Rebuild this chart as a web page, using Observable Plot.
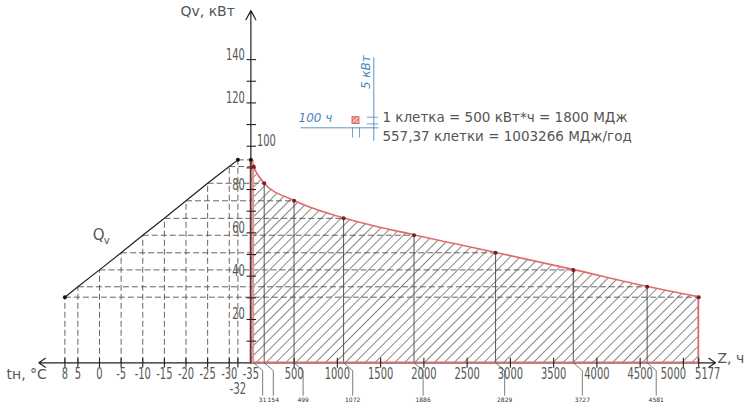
<!DOCTYPE html>
<html><head><meta charset="utf-8">
<script src="https://cdn.jsdelivr.net/npm/d3@7"></script>
<script src="https://cdn.jsdelivr.net/npm/@observablehq/plot@0.6"></script>
<style>
html,body{margin:0;padding:0;background:#fff;}
</style>
</head><body>
<div id="chart"></div>
<script>
// ---- data ----
const temps = [8, 5, 0, -5, -10, -15, -20, -25, -30, -32];            // outdoor temperature, °C
const qvValues = [30.3, 35.1, 42.9, 50.8, 58.9, 66.7, 74.8, 82.9, 90.6, 93.7]; // Qv, kW
const hours = [5177, 4581, 3727, 2829, 1886, 1072, 499, 154, 31, 0];    // duration Z, h
const tempTicks = [8, 5, 0, -5, -10, -15, -20, -25, -30, -35];
const tempExtraTick = [-32];
const hourTicks = [500, 1000, 1500, 2000, 2500, 3000, 3500, 4000, 4500, 5000, 5177];
const qvTicks = [20, 40, 60, 80, 100, 120, 140];
const qvMinorTicks = [10, 30, 50, 70, 90, 110, 130];
const legendLine1 = "1 клетка = 500 кВт*ч = 1800 МДж";
const legendLine2 = "557,37 клетки = 1003266 МДж/год";

// temperature axis shares the x scale: -35 °C sits at Z = 0, 1 °C = 50 h to the left
const HOURS_PER_DEG = 50;
const tx = t => -(t + 35) * HOURS_PER_DEG;

const rows = hours.map((h, i) => ({h, q: qvValues[i], t: temps[i]}));
const rowsAsc = rows.slice().sort((a, b) => a.h - b.h);
const peak = rowsAsc[0];
const zMax = d3.max(hours);
const FONT = "'DejaVu Sans', sans-serif";
const TXT = "#555";
const RED = "#e36b6b";
const BLUE = "#4f86c0";
const LEAD = 105; // leader offset in hours
const NARROW = 0.66; // horizontal compression of tick labels (narrow drafting font)
const TICK_FS = 15;

const leaderRows = rows.filter(d => d.h > 0 && d.h < zMax);
const leaderPts = [];
leaderRows.forEach(d => {
  leaderPts.push({id: d.h, x: d.h, y: 0});
  leaderPts.push({id: d.h, x: d.h + LEAD, y: -3.6});
  leaderPts.push({id: d.h, x: d.h + LEAD, y: -15});
});

const mainHourTicks = hourTicks.filter(d => d < 5000);
const one = [0];
const tickText = {fontSize: TICK_FS, fill: TXT};
const svg = Plot.plot({
  width: 747, height: 409, margin: 0,
  style: {fontFamily: FONT, background: "#fff", color: TXT, overflow: "visible"},
  x: {domain: [-2150, 5177], range: [64.4, 698.2]},
  y: {domain: [0, 140], range: [362.3, 59.1]},
  marks: [
    Plot.areaY(rowsAsc, {x: "h", y: "q", fill: "url(#hatch)", curve: "monotone-x"}),
    Plot.link(rows, {x1: d => tx(d.t), x2: "h", y1: "q", y2: "q", stroke: "#555", strokeWidth: 0.9, strokeDasharray: "6,3"}),
    Plot.link(rows, {x1: d => tx(d.t), x2: d => tx(d.t), y1: () => 0, y2: "q", stroke: "#555", strokeWidth: 0.9, strokeDasharray: "6,3"}),
    Plot.link(rows.filter(d => d.h > 0), {x1: "h", x2: "h", y1: () => 0, y2: "q", stroke: "#444", strokeWidth: 0.9}),
    Plot.line(rows, {x: d => tx(d.t), y: "q", stroke: "#222", strokeWidth: 1.2}),
    Plot.arrow(one, {x1: () => 0, y1: () => 0, x2: () => -2452, y2: () => 0, stroke: "#222", strokeWidth: 1.2, headLength: 10, headAngle: 68}),
    Plot.arrow(one, {x1: () => 0, y1: () => 0, x2: () => 5371, y2: () => 0, stroke: "#222", strokeWidth: 1.2, headLength: 10, headAngle: 68}),
    Plot.areaY(rowsAsc, {x: "h", y: "q", fill: "none", stroke: RED, strokeWidth: 1.6, curve: "monotone-x"}),
    Plot.link([peak], {x1: () => 0, x2: () => 0, y1: () => 0, y2: "q", dx: 2, stroke: "#f29a9a", strokeWidth: 2}),
    Plot.arrow(one, {x1: () => 0, y1: () => 0, x2: () => 0, y2: () => 162.6, stroke: "#222", strokeWidth: 1.2, headLength: 13, headAngle: 57}),
    Plot.link(hourTicks, {x1: d => d, x2: d => d, y1: () => -2.3, y2: () => 2.3, stroke: "#222", strokeWidth: 1.1}),
    Plot.link(temps, {x1: d => tx(d), x2: d => tx(d), y1: () => -2.2, y2: () => 2.2, stroke: "#222", strokeWidth: 1.1}),
    Plot.link(qvTicks.concat(qvMinorTicks), {x1: () => -50, x2: () => 60, y1: d => d, y2: d => d, stroke: "#222", strokeWidth: 1.1}),
    Plot.dot([rows[0], peak], {x: d => tx(d.t), y: "q", r: 2, fill: "#111"}),
    Plot.dot([peak], {x: "h", y: "q", r: 2, fill: "#111"}),
    Plot.dot(rows.filter(d => d.h > 0), {x: "h", y: "q", r: 2, fill: "#7a1e1e"}),
    // tick labels
    Plot.text(mainHourTicks, {x: d => d, y: () => 0, dy: 16, text: d => String(d), ...tickText}),
    Plot.text(hourTicks.filter(d => d === 5000), {x: d => d, y: () => 0, dy: 16, dx: -10, text: d => String(d), ...tickText}),
    Plot.text(hourTicks.filter(d => d === zMax), {x: d => d, y: () => 0, dy: 16, dx: 9, text: d => String(d), ...tickText}),
    Plot.text(tempTicks, {x: d => tx(d), y: () => 0, dy: 16, text: d => String(d), ...tickText}),
    Plot.text(tempExtraTick, {x: d => tx(d), y: () => 0, dy: 31, text: d => String(d), ...tickText}),
    Plot.text(qvTicks.filter(d => d !== 100), {x: () => 0, y: d => d, dx: -6, textAnchor: "end", text: d => String(d), ...tickText}),
    Plot.text(qvTicks.filter(d => d === 100), {x: () => 0, y: d => d, dx: 6, textAnchor: "start", text: d => String(d), ...tickText}),
    // leaders to the small duration labels
    Plot.line(leaderPts, {x: "x", y: "y", z: "id", stroke: "#444", strokeWidth: 0.7}),
    Plot.text(leaderRows, {x: d => d.h + LEAD, y: () => -17.9, text: d => String(d.h), fontSize: 6, fill: "#333"}),
    // axis titles
    Plot.text(one, {x: () => 0, y: () => 160.3, dx: -16, textAnchor: "end", text: () => "Qv, кВт", fontSize: 14, fill: TXT}),
    Plot.text(one, {x: () => -2825, y: () => 0, dy: 16, textAnchor: "start", text: () => "tн, °C", fontSize: 14, fill: TXT}),
    Plot.text(one, {x: () => 5394, y: () => 0, textAnchor: "start", text: () => "Z, ч", fontSize: 14, fill: TXT}),
    Plot.text(one, {x: () => -1760, y: () => 56.5, text: () => "Q", fontSize: 15, fill: TXT}),
    Plot.text(one, {x: () => -1760, y: () => 56.5, dx: 8, dy: 4, text: () => "v", fontSize: 10, fill: TXT}),
    // legend: one cell = 100 h x 5 kW
    Plot.link([108.5], {x1: () => 576, x2: () => 1474, y1: d => d, y2: d => d, stroke: BLUE, strokeWidth: 0.9}),
    Plot.link([1421], {x1: d => d, x2: d => d, y1: () => 102.5, y2: () => 141, stroke: BLUE, strokeWidth: 0.9}),
    Plot.link([110.3, 113.4], {x1: () => 1340, x2: () => 1470, y1: d => d, y2: d => d, stroke: BLUE, strokeWidth: 0.8}),
    Plot.link([1175, 1255], {x1: d => d, x2: d => d, y1: () => 104, y2: () => 108.6, stroke: BLUE, strokeWidth: 0.8}),
    Plot.rect(one, {x1: () => 1175, x2: () => 1255, y1: () => 110.3, y2: () => 113.4, fill: "url(#hatchRed)", stroke: "#d05050", strokeWidth: 0.9}),
    Plot.text(one, {x: () => 746, y: () => 111.1, text: () => "100 ч", fontSize: 12, fontStyle: "italic", fill: BLUE}),
    Plot.text(one, {x: () => 1335, y: () => 134.2, rotate: -90, text: () => "5 кВт", fontSize: 12, fontStyle: "italic", fill: BLUE}),
    Plot.text(one, {x: () => 1521, y: () => 111.4, textAnchor: "start", text: () => legendLine1, fontSize: 13.5, fill: TXT}),
    Plot.text(one, {x: () => 1521, y: () => 102.2, textAnchor: "start", text: () => legendLine2, fontSize: 13.5, fill: TXT})
  ]
});

const ns = "http://www.w3.org/2000/svg";
const defs = document.createElementNS(ns, "defs");
defs.innerHTML =
  '<pattern id="hatch" patternUnits="userSpaceOnUse" width="7" height="7" patternTransform="rotate(45)">' +
  '<line x1="3.5" y1="0" x2="3.5" y2="7" stroke="#7a7a7a" stroke-width="0.9"/></pattern>' +
  '<pattern id="hatchRed" patternUnits="userSpaceOnUse" width="3" height="3" patternTransform="rotate(45)">' +
  '<rect width="3" height="3" fill="#f6c4c4"/><line x1="1.5" y1="0" x2="1.5" y2="3" stroke="#d05050" stroke-width="0.8"/></pattern>';
svg.insertBefore(defs, svg.firstChild);
document.getElementById("chart").appendChild(svg);

// fold translate transforms into x/y attributes of unrotated texts
const TR = /^\s*translate\(\s*([-\d.e]+)[ ,]+([-\d.e]+)\s*\)\s*$/;
svg.querySelectorAll("g").forEach(g => {
  const m = (g.getAttribute("transform") || "").match(TR);
  const kids = Array.from(g.children);
  if (!m || !kids.length || kids.some(k => k.tagName.toLowerCase() !== "text")) return;
  if (kids.some(k => /rotate/.test(k.getAttribute("transform") || ""))) return;
  const ox = +m[1], oy = +m[2];
  kids.forEach(t => {
    const tm = (t.getAttribute("transform") || "").match(TR);
    const x = (tm ? +tm[1] : +(t.getAttribute("x") || 0)) + ox;
    const y = (tm ? +tm[2] : +(t.getAttribute("y") || 0)) + oy;
    t.removeAttribute("transform");
    t.setAttribute("x", x); t.setAttribute("y", y);
  });
  g.removeAttribute("transform");
});
svg.querySelectorAll("text").forEach(t => {
  const tm = (t.getAttribute("transform") || "").match(TR);
  if (tm) {
    t.removeAttribute("transform");
    t.setAttribute("x", +tm[1] + +(t.getAttribute("x") || 0));
    t.setAttribute("y", +tm[2] + +(t.getAttribute("y") || 0));
  }
});
// narrow drafting-style numeric tick labels
svg.querySelectorAll("text").forEach(t => {
  const fs = parseFloat(t.getAttribute("font-size") || (t.parentNode.getAttribute && t.parentNode.getAttribute("font-size")) || "0");
  if (fs !== TICK_FS || !/^-?\d+$/.test(t.textContent.trim())) return;
  const len = t.getComputedTextLength();
  if (len > 0) {
    t.setAttribute("textLength", (len * NARROW).toFixed(2));
    t.setAttribute("lengthAdjust", "spacingAndGlyphs");
  }
});
</script>
</body></html>
